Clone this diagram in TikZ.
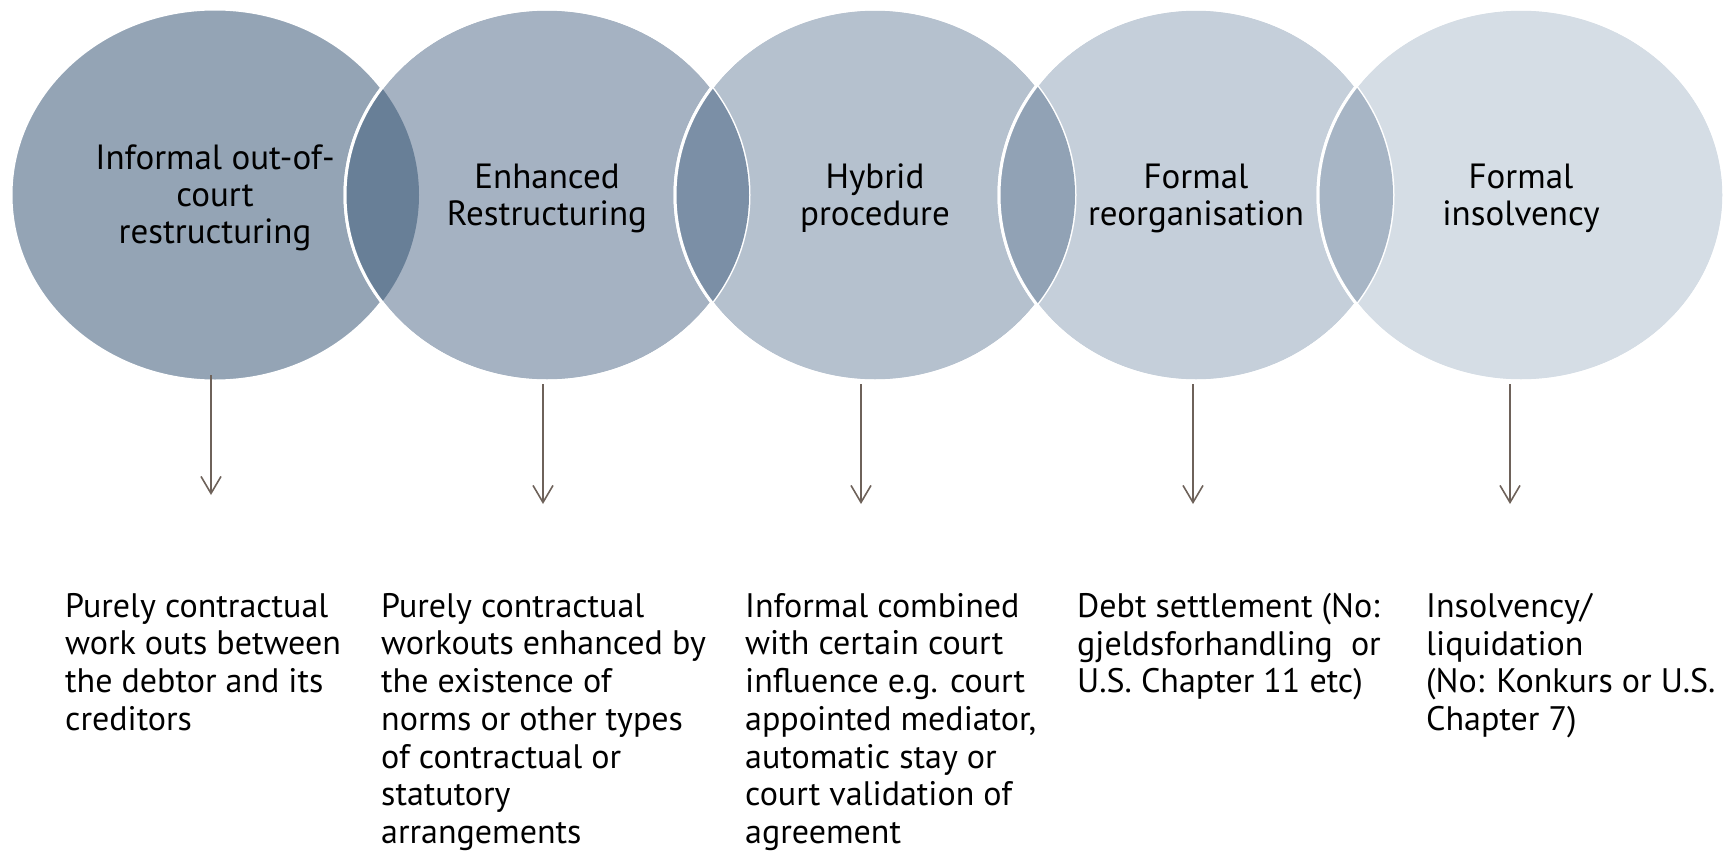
\documentclass[tikz,border=0pt]{standalone}
\usepackage{fontspec}
\setmainfont{PT Sans}
\usetikzlibrary{shapes.geometric,arrows.meta}

\definecolor{stageA}{HTML}{94A4B5}
\definecolor{stageB}{HTML}{A5B2C2}
\definecolor{stageC}{HTML}{B5C1CE}
\definecolor{stageD}{HTML}{C5CFDA}
\definecolor{stageE}{HTML}{D5DDE5}
\definecolor{lensAB}{HTML}{687F97}
\definecolor{lensBC}{HTML}{7B8FA6}
\definecolor{lensCD}{HTML}{91A2B5}
\definecolor{lensDE}{HTML}{A7B5C5}
\definecolor{arrowgrey}{HTML}{6E625A}

\tikzset{
  stage/.style={ellipse, draw=white, line width=3pt, inner sep=0pt, minimum height=372pt},
  rim/.style={draw=white, line width=3pt},
  head/.style={align=center, font=\fontsize{35}{37}\selectfont, inner sep=0pt},
  body/.style={align=left, anchor=north west, font=\fontsize{34}{37.7}\selectfont, inner sep=0pt},
  down/.style={draw=arrowgrey, line width=1.6pt, -{Straight Barb[length=17pt,width=20pt,line width=1.6pt]}}
}

\begin{document}
\begin{tikzpicture}[x=1pt,y=-1pt]
\useasboundingbox (0,0) rectangle (1729,852);

% the five overlapping stages
\node[stage, fill=stageA, minimum width=408pt] (e1) at (215,195) {};
\node[stage, fill=stageB, minimum width=404pt] (e2) at (547,195) {};
\node[stage, fill=stageC, minimum width=400pt] (e3) at (875,195) {};
\node[stage, fill=stageD, minimum width=394pt] (e4) at (1196,195) {};
\node[stage, fill=stageE, minimum width=406pt] (e5) at (1521,195) {};

% darker overlaps between neighbouring stages
\begin{scope}
  \clip (e1.center) ellipse [x radius=204pt, y radius=186pt];
  \fill[lensAB] (e2.center) ellipse [x radius=202pt, y radius=186pt];
\end{scope}
\draw[rim] (e2.center) ellipse [x radius=202pt, y radius=186pt];
\begin{scope}
  \clip (e2.center) ellipse [x radius=202pt, y radius=186pt];
  \fill[lensBC] (e3.center) ellipse [x radius=200pt, y radius=186pt];
\end{scope}
\draw[rim] (e3.center) ellipse [x radius=200pt, y radius=186pt];
\begin{scope}
  \clip (e3.center) ellipse [x radius=200pt, y radius=186pt];
  \fill[lensCD] (e4.center) ellipse [x radius=197pt, y radius=186pt];
\end{scope}
\draw[rim] (e4.center) ellipse [x radius=197pt, y radius=186pt];
\begin{scope}
  \clip (e4.center) ellipse [x radius=197pt, y radius=186pt];
  \fill[lensDE] (e5.center) ellipse [x radius=203pt, y radius=186pt];
\end{scope}
\draw[rim] (e5.center) ellipse [x radius=203pt, y radius=186pt];

% stage titles
\node[head] (h1) at ([yshift=-3pt]e1.center) {Informal out-of-\\court\\restructuring};
\node[head] (h2) at ([yshift=-3pt]e2.center) {Enhanced\\Restructuring};
\node[head] (h3) at ([yshift=-3pt]e3.center) {Hybrid\\procedure};
\node[head] (h4) at ([yshift=-3pt]e4.center) {Formal\\reorganisation};
\node[head] (h5) at ([yshift=-3pt]e5.center) {Formal\\insolvency};

% arrows down to the descriptions
\coordinate (a1s) at (211,375); \coordinate (a1e) at (211,495);
\coordinate (a2s) at (543,384); \coordinate (a2e) at (543,504);
\coordinate (a3s) at (861,384); \coordinate (a3e) at (861,504);
\coordinate (a4s) at (1193,384); \coordinate (a4e) at (1193,504);
\coordinate (a5s) at (1510,384); \coordinate (a5e) at (1510,504);
\draw[down] (a1s) -- (a1e);
\draw[down] (a2s) -- (a2e);
\draw[down] (a3s) -- (a3e);
\draw[down] (a4s) -- (a4e);
\draw[down] (a5s) -- (a5e);

% descriptions
\node[body] (b1) at (65,593) {Purely contractual\\work outs between\\the debtor and its\\creditors};
\node[body] (b2) at (381,593) {Purely contractual\\workouts enhanced by\\the existence of\\norms or other types\\of contractual or\\statutory\\arrangements};
\node[body] (b3) at (745,593) {Informal combined\\with certain court\\influence e.g. court\\appointed mediator,\\automatic stay or\\court validation of\\agreement};
\node[body] (b4) at (1077,593) {Debt settlement (No:\\gjeldsforhandling\ \ or\\U.S. Chapter 11 etc)};
\node[body] (b5) at (1426,593) {Insolvency/\\liquidation\\(No: Konkurs or U.S.\\Chapter 7)};
\end{tikzpicture}
\end{document}
